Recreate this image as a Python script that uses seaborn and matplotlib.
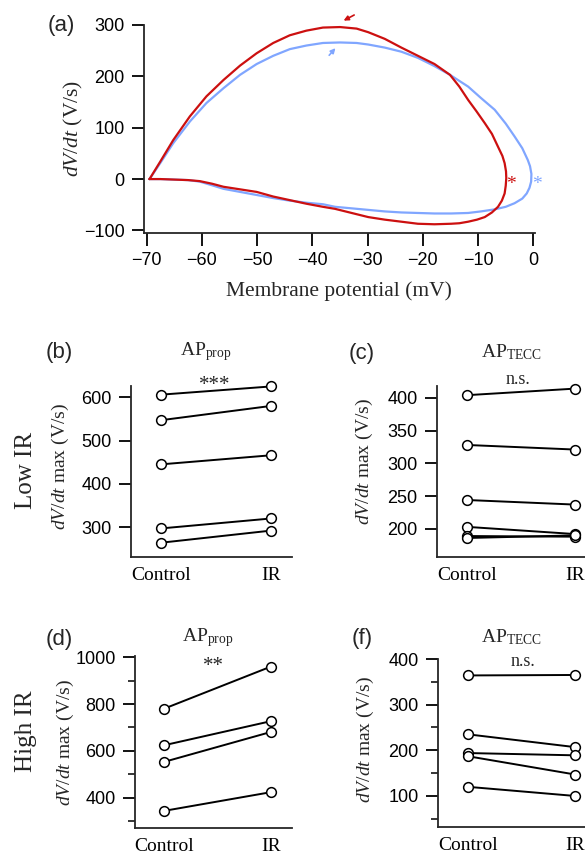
import numpy as np
import pandas as pd
import matplotlib
matplotlib.use("Agg")
import matplotlib.pyplot as plt
import matplotlib.transforms as mtransforms
import seaborn as sns

# === Panel (a): phase plots, (V, dV/dt) ===
red_v = [-69.5, -67.5, -65.2, -62.2, -59.2, -56.1, -53.1, -50.1, -47.1, -44.1, -41.1,
         -38.1, -35.0, -32.0, -29.9, -26.9, -23.9, -20.9, -17.9, -15.1, -13.4, -11.8,
         -10.3, -8.8, -7.5, -6.4, -5.6, -5.2, -4.95, -4.9, -5.0, -5.2, -5.7, -6.4,
         -7.5, -8.8, -10.2, -11.8, -13.4, -14.9, -17.9, -20.9, -23.9, -26.9, -29.9,
         -32.9, -35.9, -38.1, -41.1, -44.1, -47.1, -50.1, -53.1, -56.1, -58.2, -60.4,
         -62.5, -65.0, -67.5, -69.5]
red_dvdt = [0, 35, 76, 122, 161, 193, 221, 245, 265, 280, 289,
            295, 296, 293, 286, 273, 256, 240, 224, 203, 180, 154,
            132, 109, 88, 63, 45, 31, 15, 2, -13, -28, -42, -54,
            -65, -74, -79, -83, -86, -87, -88, -87, -83, -79, -74,
            -66, -58, -54, -48, -41, -34, -25, -20, -15, -9, -4,
            -2, -1, 0, 0]

blue_v = [-69.5, -67.5, -65.2, -62.2, -59.2, -56.1, -53.1, -50.1, -47.1, -44.1, -41.1,
          -38.1, -35.0, -32.0, -29.9, -26.9, -23.9, -20.9, -17.9, -15.1, -11.8, -9.5,
          -7.0, -5.0, -3.4, -2.0, -1.0, -0.6, -0.35, -0.4, -0.7, -1.2, -2.0, -3.4,
          -5.0, -7.0, -9.5, -11.8, -14.9, -17.9, -20.9, -23.9, -26.9, -29.9, -32.9,
          -35.9, -38.1, -41.1, -44.1, -47.1, -50.1, -53.1, -56.1, -58.2, -60.4, -62.5,
          -65.0, -67.5, -69.5]
blue_dvdt = [0, 32, 70, 112, 148, 177, 203, 224, 240, 253, 260,
             265, 266, 265, 262, 256, 248, 236, 220, 203, 180, 158,
             135, 108, 83, 60, 37, 25, 10, -5, -17, -28, -38, -47,
             -54, -59, -63, -66, -67, -67, -66, -65, -63, -60, -57,
             -54, -49, -46, -42, -37, -31, -25, -19, -12, -5, -2,
             -1, 0, 0]

# === Paired dV/dt max values (Control -> IR) ===
b_control = [606, 547, 445, 297, 264]
b_ir = [625, 580, 466, 320, 292]
c_control = [404, 328, 244, 203, 189, 186]
c_ir = [414, 321, 237, 192, 188, 190]
d_control = [780, 624, 553, 344]
d_ir = [960, 727, 681, 424]
f_control = [364, 235, 194, 187, 120]
f_ir = [365, 207, 189, 147, 100]
conditions = ["Control", "IR"]

RED = "#cc1010"
BLUE = "#80a6ff"

sns.set_theme(style="ticks")
plt.rcParams["font.family"] = ["Liberation Sans", "DejaVu Sans"]
plt.rcParams["mathtext.fontset"] = "custom"
plt.rcParams["mathtext.rm"] = "Liberation Serif"
plt.rcParams["mathtext.it"] = "Liberation Serif:italic"
plt.rcParams["axes.linewidth"] = 1.3
SERIF = ["Liberation Serif", "DejaVu Serif"]

W, H = 585, 855
fig = plt.figure(figsize=(W / 100, H / 100), dpi=100)


def px_axes(left, top, right, bottom):
    return fig.add_axes([left / W, 1 - bottom / H, (right - left) / W, (bottom - top) / H])


def style_axis(ax):
    sns.despine(ax=ax)
    ax.tick_params(direction="out", length=9, width=1.3, labelsize=13, pad=5, colors="black")
    ax.set_facecolor("white")


def ftext(x, y, s, **kw):
    fig.text(x / W, 1 - y / H, s, ha="center", va="center", **kw)


# === Panel (a) ===
ax_a = px_axes(144, 25, 535, 233)
sns.lineplot(x=blue_v, y=blue_dvdt, sort=False, estimator=None, color=BLUE, lw=1.6,
             solid_joinstyle="round", ax=ax_a)
sns.lineplot(x=red_v, y=red_dvdt, sort=False, estimator=None, color=RED, lw=1.6,
             solid_joinstyle="round", ax=ax_a)
ax_a.set_xlim(-70.5, 0.3)
ax_a.set_ylim(-105, 300)
ax_a.set_xticks(np.arange(-70, 1, 10))
ax_a.set_yticks([-100, 0, 100, 200, 300])
style_axis(ax_a)
ax_a.set_xlabel("")
ax_a.set_ylabel("")
ax_a.text(-4.0, -19, "*", color=RED, fontsize=14, family=SERIF, ha="center", va="baseline", clip_on=False)
ax_a.text(0.7, -19, "*", color=BLUE, fontsize=14, family=SERIF, ha="center", va="baseline", clip_on=False)
ax_a.annotate("", xy=(-34.8, 306), xytext=(-32.0, 322), annotation_clip=False,
              arrowprops=dict(arrowstyle="-|>", color=RED, lw=1.2, mutation_scale=7))
ax_a.annotate("", xy=(-35.5, 259), xytext=(-37.3, 237), annotation_clip=False,
              arrowprops=dict(arrowstyle="-|>", color=BLUE, lw=1.2, mutation_scale=7))
ftext(61, 25, "(a)", fontsize=16)
ftext(339, 291, "Membrane potential (mV)", fontsize=15.5, family=SERIF)
ftext(73, 128, r"$dV/dt$ (V/s)", fontsize=15.5, family=SERIF, rotation=90)


# === Paired panels ===
def paired(ax, control, ir, xlim, ylim, major, minor, title, title_y, sig, sig_x, sig_y):
    n = len(control)
    df = pd.DataFrame({
        "cell": list(range(n)) * 2,
        "cond": [0] * n + [1] * n,
        "val": list(control) + list(ir),
    })
    sns.lineplot(data=df, x="cond", y="val", units="cell", estimator=None, color="black",
                 lw=1.4, marker="o", markersize=7, markerfacecolor="white",
                 markeredgecolor="black", markeredgewidth=1.1, clip_on=False, ax=ax)
    ax.set_xlim(*xlim)
    ax.set_ylim(*ylim)
    ax.set_xticks([0, 1])
    ax.set_xticklabels(conditions, family=SERIF, fontsize=14)
    ax.set_yticks(major)
    ax.set_yticks(minor, minor=True)
    style_axis(ax)
    ax.tick_params(axis="x", length=0, pad=7, labelsize=14)
    ax.tick_params(axis="y", which="minor", direction="out", length=5, width=1.3)
    ax.set_xlabel("")
    ax.set_ylabel("")
    trans = mtransforms.blended_transform_factory(ax.transData, ax.transAxes)
    ax.text(0.41, title_y, title, transform=trans, ha="center", va="baseline",
            fontsize=14, family=SERIF)
    ax.text(sig_x, sig_y, sig, transform=trans, ha="center", va="baseline",
            fontsize=15 if "*" in sig else 13, family=SERIF)


ax_b = px_axes(131, 386, 292, 557)
paired(ax_b, b_control, b_ir, (-0.273, 1.19), (231, 626), [300, 400, 500, 600], [],
       r"AP$_{\mathrm{prop}}$", 1.18, "***", 0.49, 0.975)
ax_c = px_axes(437, 386, 598, 557)
paired(ax_c, c_control, c_ir, (-0.278, 1.213), (157, 418), [200, 250, 300, 350, 400], [],
       r"AP$_{\mathrm{TECC}}$", 1.165, "n.s.", 0.47, 1.01)
ax_d = px_axes(135, 656, 292, 828)
paired(ax_d, d_control, d_ir, (-0.271, 1.196), (271, 1005), [400, 600, 800, 1000],
       [300, 500, 700, 900], r"AP$_{\mathrm{prop}}$", 1.087, "**", 0.46, 0.91)
ax_f = px_axes(438, 659, 599, 827)
paired(ax_f, f_control, f_ir, (-0.28, 1.224), (32, 400), [100, 200, 300, 400],
       [50, 150, 250, 350], r"AP$_{\mathrm{TECC}}$", 1.1, "n.s.", 0.51, 0.96)

ftext(59, 352, "(b)", fontsize=16)
ftext(362, 353, "(c)", fontsize=16)
ftext(59, 640, "(d)", fontsize=16)
ftext(362, 638, "(f)", fontsize=16)
ftext(26, 470, "Low IR", fontsize=18, family=SERIF, rotation=90)
ftext(26, 731, "High IR", fontsize=18, family=SERIF, rotation=90)
ylab = r"$dV/dt$ max (V/s)"
ftext(60, 467, ylab, fontsize=14, family=SERIF, rotation=90)
ftext(364, 462, ylab, fontsize=14, family=SERIF, rotation=90)
ftext(65, 743, ylab, fontsize=14, family=SERIF, rotation=90)
ftext(365, 740, ylab, fontsize=14, family=SERIF, rotation=90)

fig.savefig("out.png", dpi=100, facecolor="white")
